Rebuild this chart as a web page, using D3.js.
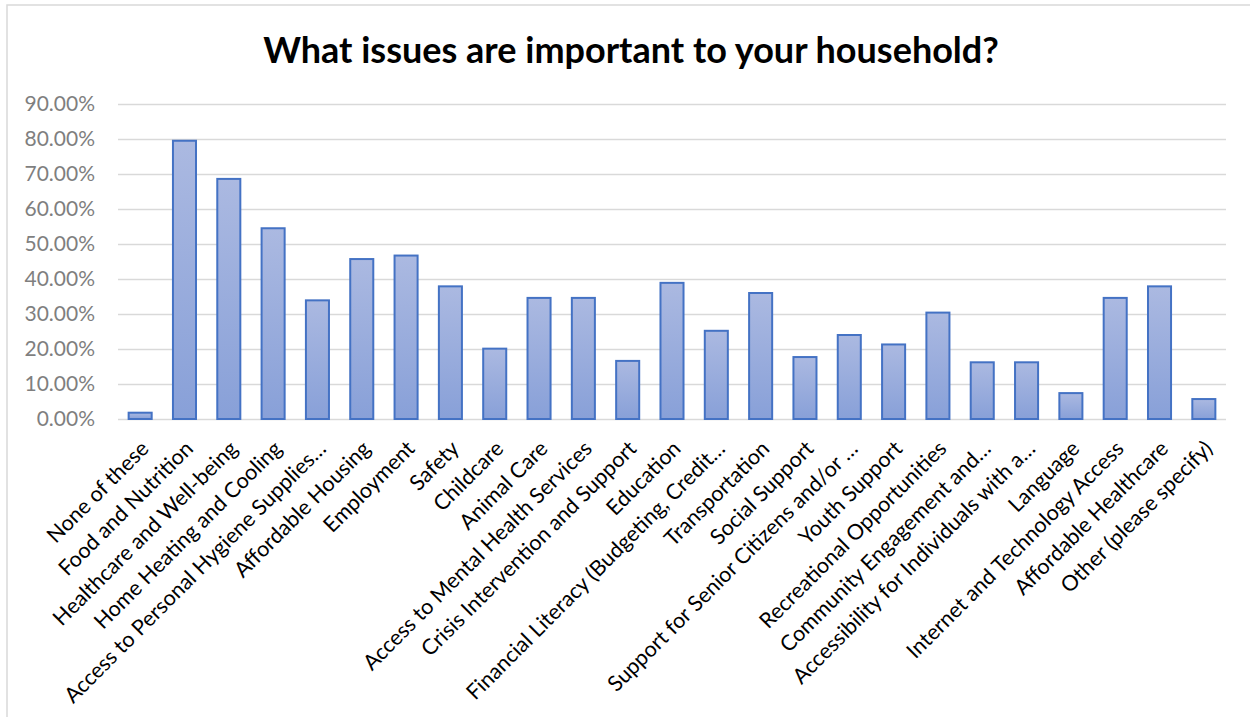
<!DOCTYPE html>
<html>
<head>
<meta charset="utf-8">
<script src="https://cdn.jsdelivr.net/npm/d3@7"></script>
<style>
  body { margin: 0; background: #fff; }
  svg { display: block; }
</style>
</head>
<body>
<svg id="chart" width="1250" height="717"></svg>
<script>
const title = "What issues are important to your household?";

const categories = [
  "None of these", "Food and Nutrition", "Healthcare and Well-being",
  "Home Heating and Cooling", "Access to Personal Hygiene Supplies…",
  "Affordable Housing", "Employment", "Safety", "Childcare", "Animal Care",
  "Access to Mental Health Services", "Crisis Intervention and Support",
  "Education", "Financial Literacy (Budgeting, Credit…", "Transportation",
  "Social Support", "Support for Senior Citizens and/or …", "Youth Support",
  "Recreational Opportunities", "Community Engagement and…",
  "Accessibility for Individuals with a…", "Language",
  "Internet and Technology Access", "Affordable Healthcare",
  "Other (please specify)"
];

const shares = [
  0.018, 0.795, 0.686, 0.545, 0.339, 0.457, 0.467, 0.379, 0.201, 0.346,
  0.346, 0.166, 0.389, 0.252, 0.360, 0.177, 0.240, 0.213, 0.304, 0.162,
  0.162, 0.074, 0.346, 0.379, 0.057
];

const yTicks = [0, 0.1, 0.2, 0.3, 0.4, 0.5, 0.6, 0.7, 0.8, 0.9];

const svg = d3.select("#chart");
const width = +svg.attr("width");
const height = +svg.attr("height");
const margin = {top: 104, right: 24, bottom: 298, left: 118};

// chart frame (cut off on the right and bottom like the screenshot)
svg.append("rect")
  .attr("x", 7).attr("y", 5)
  .attr("width", width + 20).attr("height", height + 20)
  .attr("fill", "#fff")
  .attr("stroke", "#d9d9d9")
  .attr("stroke-width", 1.5);

svg.append("text")
  .attr("x", 631).attr("y", 63)
  .attr("text-anchor", "middle")
  .attr("font-family", "Lato, sans-serif")
  .attr("font-weight", "bold")
  .attr("font-size", 36)
  .attr("fill", "#000")
  .text(title);

const x = d3.scaleBand()
  .domain(categories)
  .range([margin.left, width - margin.right])
  .paddingInner(0.48)
  .paddingOuter(0.24);

const y = d3.scaleLinear()
  .domain([0, 0.9])
  .range([height - margin.bottom, margin.top]);

const defs = svg.append("defs");
const grad = defs.append("linearGradient")
  .attr("id", "barFill")
  .attr("x1", 0).attr("y1", 0).attr("x2", 0).attr("y2", 1);
grad.append("stop").attr("offset", "0%").attr("stop-color", "#abb9e1");
grad.append("stop").attr("offset", "100%").attr("stop-color", "#88a0d8");

// gridlines + y labels
const yAxis = svg.append("g")
  .attr("transform", `translate(${margin.left},0)`)
  .call(d3.axisLeft(y)
    .tickValues(yTicks)
    .tickFormat(d3.format(".2%"))
    .tickSize(-(width - margin.left - margin.right))
    .tickPadding(23));
yAxis.select(".domain").remove();
yAxis.selectAll(".tick line")
  .attr("stroke", "#d9d9d9")
  .attr("stroke-width", 1.5);
yAxis.selectAll(".tick text")
  .attr("font-family", "Lato, sans-serif")
  .attr("font-size", 21)
  .attr("fill", "#7f7f7f");

svg.append("g")
  .selectAll("rect")
  .data(shares)
  .join("rect")
  .attr("x", (d, i) => x(categories[i]))
  .attr("y", d => y(d))
  .attr("width", x.bandwidth())
  .attr("height", d => y(0) - y(d))
  .attr("fill", "url(#barFill)")
  .attr("stroke", "#4472c4")
  .attr("stroke-width", 2);

// category labels, rotated
const xAxis = svg.append("g")
  .attr("transform", `translate(0,${y(0)})`)
  .call(d3.axisBottom(x).tickSize(0).tickPadding(0));
xAxis.select(".domain").remove();
xAxis.selectAll(".tick text")
  .attr("font-family", "Lato, sans-serif")
  .attr("font-size", 21.5)
  .attr("fill", "#000")
  .attr("text-anchor", "end")
  .attr("dy", null)
  .attr("transform", "translate(10,31) rotate(-45)");
</script>
</body>
</html>
